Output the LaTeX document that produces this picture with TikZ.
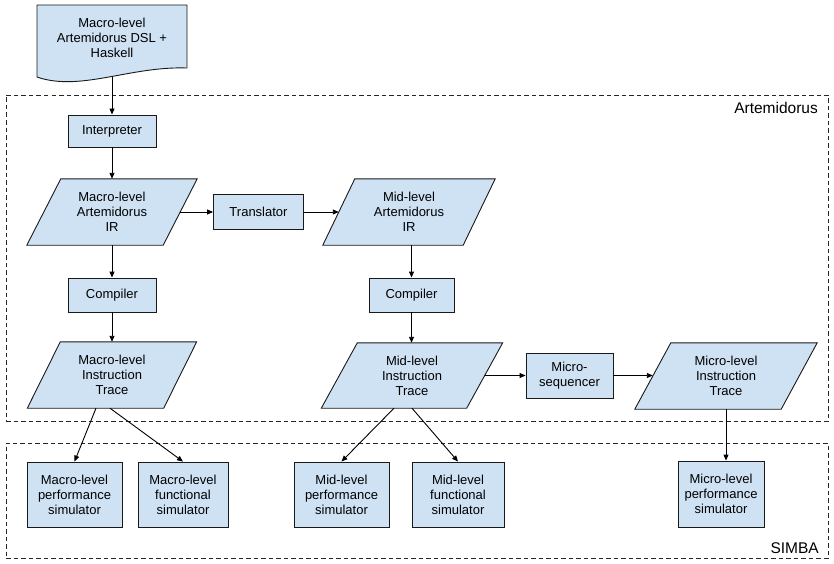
\documentclass[tikz,border=0pt]{standalone}
\usepackage{fontspec}
\setmainfont{Liberation Sans}
\usetikzlibrary{arrows.meta}
\definecolor{boxfill}{HTML}{CFE2F3}
\pgfdeclarelayer{bg}
\pgfsetlayers{bg,main}
\newcommand\drawpara[2]{%
  \begin{pgfonlayer}{bg}
  \draw[shapeline, fill=boxfill] ([xshift=-#2pt]#1.south west) -- ([xshift=-#2pt]#1.south east)
     -- ([xshift=#2pt]#1.north east) -- ([xshift=#2pt]#1.north west) -- cycle;
  \end{pgfonlayer}}
\begin{document}
\begin{tikzpicture}[x=1pt,y=-1pt,
  every node/.style={font=\fontsize{13}{15}\selectfont, align=center, inner sep=0pt},
  shapeline/.style={draw=black!90, line width=0.9pt},
  box/.style={shapeline, fill=boxfill, rectangle},
  para/.style={rectangle},
  container/.style={draw=black!85, line width=0.9pt, dash pattern=on 4.5pt off 3pt, rectangle},
  lbl/.style={font=\fontsize{15.5}{18}\selectfont, anchor=east},
  arr/.style={draw=black, line width=0.9pt, -{Triangle[length=6pt,width=5pt]}}]
\useasboundingbox (0,0) rectangle (834,564);

% containers
\node[container, minimum width=822pt, minimum height=326pt] (artbox) at (417,258) {};
\node[container, minimum width=822pt, minimum height=115pt] (simbabox) at (417,500.5) {};
\node[lbl] (artlab) at (818,108) {Artemidorus};
\node[lbl] (simbalab) at (819,548) {SIMBA};

% document shape
\node[minimum width=150pt, minimum height=65pt] (dsl) at (112,37.5) {Macro-level\\Artemidorus DSL +\\Haskell};
\begin{pgfonlayer}{bg}
\draw[shapeline, fill=boxfill] (37,77) -- (37,5) -- (187,5) -- (187,68)
   .. controls (130,66) and (80,92) .. (37,77) -- cycle;
\end{pgfonlayer}
\coordinate (dslb) at (112,77.5);

% process boxes
\node[box, minimum width=88pt, minimum height=32pt] (interp) at (112,131) {Interpreter};
\node[box, minimum width=90pt, minimum height=35pt] (trans) at (258.5,212) {Translator};
\node[box, minimum width=88pt, minimum height=34pt] (comp1) at (112,295) {Compiler};
\node[box, minimum width=85pt, minimum height=34pt] (comp2) at (411.5,295) {Compiler};
\node[box, minimum width=87pt, minimum height=45pt] (mseq) at (569.5,375.5) {Micro-\\sequencer};

% data (parallelograms)
\node[para, minimum width=136pt, minimum height=66pt] (mir) at (112,212) {Macro-level\\Artemidorus\\IR};
\drawpara{mir}{17}
\node[para, minimum width=140pt, minimum height=66pt] (midir) at (409,212) {Mid-level\\Artemidorus\\IR};
\drawpara{midir}{16}
\node[para, minimum width=136pt, minimum height=66pt] (mtr) at (112,375) {Macro-level\\Instruction\\Trace};
\drawpara{mtr}{16.5}
\node[para, minimum width=145pt, minimum height=65pt] (mitr) at (412,375.5) {Mid-level\\Instruction\\Trace};
\drawpara{mitr}{18}
\node[para, minimum width=146pt, minimum height=66pt] (utr) at (726,376) {Micro-level\\Instruction\\Trace};
\drawpara{utr}{18}

% simulators
\node[box, minimum width=95pt, minimum height=65pt] (mpsim) at (74.5,494.5) {Macro-level\\performance\\simulator};
\node[box, minimum width=90pt, minimum height=65pt] (mfsim) at (183,494.5) {Macro-level\\functional\\simulator};
\node[box, minimum width=95pt, minimum height=65pt] (dpsim) at (341.5,494.5) {Mid-level\\performance\\simulator};
\node[box, minimum width=92pt, minimum height=65pt] (dfsim) at (458,494.5) {Mid-level\\functional\\simulator};
\node[box, minimum width=86pt, minimum height=66pt] (upsim) at (721,494) {Micro-level\\performance\\simulator};

% connectors
\draw[arr] (dslb) -- (interp.north);
\draw[arr] (interp.south) -- (mir.north);
\draw[arr] (mir.south) -- (comp1.north);
\draw[arr] (mir.east) -- (trans.west);
\draw[arr] (trans.east) -- (midir.west);
\draw[arr] (comp2.north |- midir.south) -- (comp2.north);
\draw[arr] (comp1.south) -- (mtr.north);
\draw[arr] (comp2.south) -- (comp2.south |- mitr.north);
\draw[arr] (mitr.east) -- (mitr.east -| mseq.west);
\draw[arr] (mseq.east) -- (mseq.east -| utr.west);
\draw[arr] (utr.south) -- (utr.south |- upsim.north);
\draw[arr] ([xshift=-16pt]mtr.south) -- (mpsim.north);
\draw[arr] ([xshift=-2pt]mtr.south) -- (mfsim.north);
\draw[arr] ([xshift=-18pt]mitr.south) -- (dpsim.north);
\draw[arr] (mitr.south) -- (dfsim.north);
\end{tikzpicture}
\end{document}
